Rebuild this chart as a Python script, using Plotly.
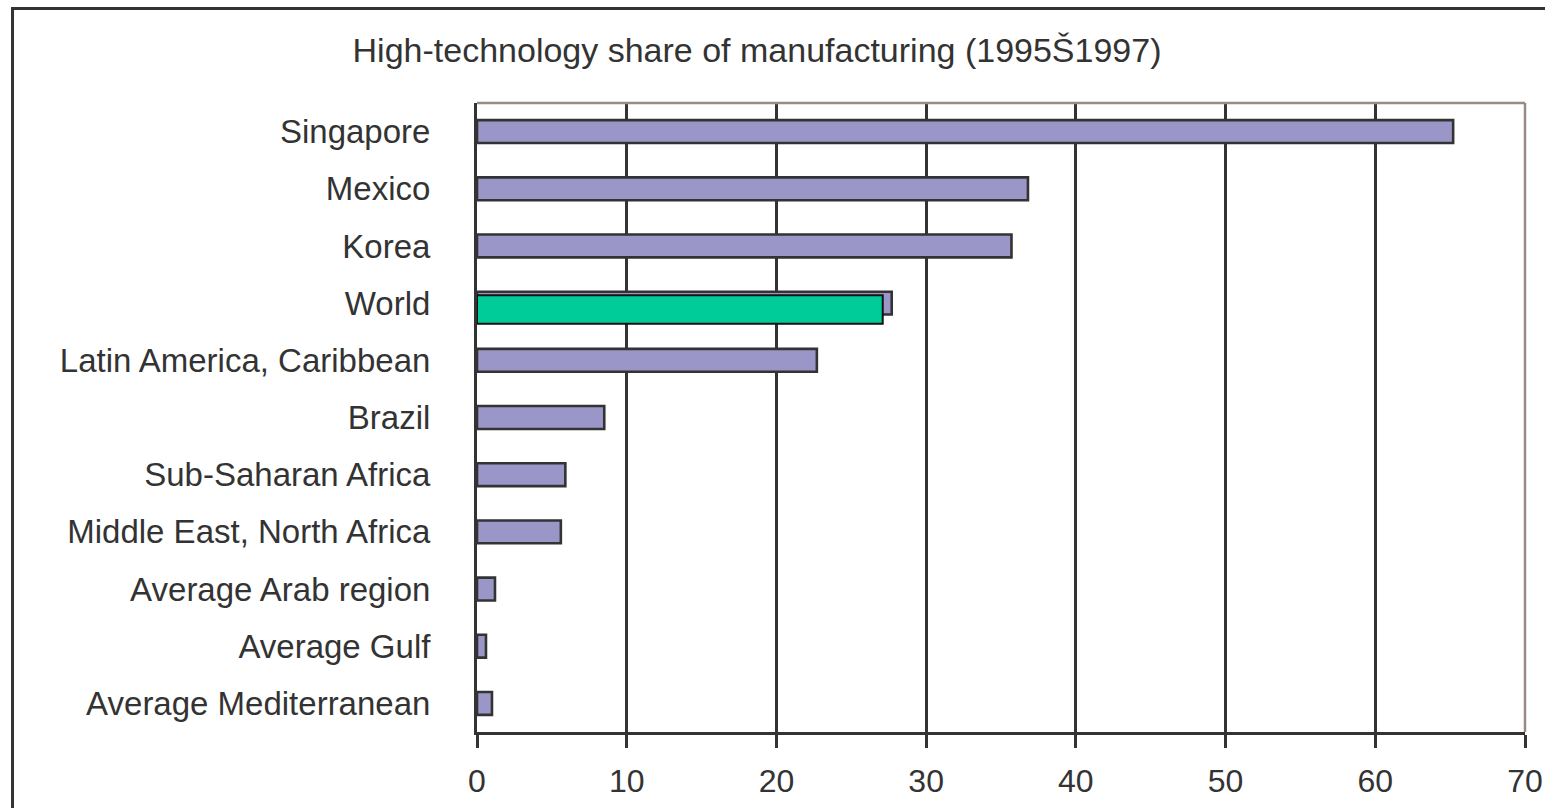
import plotly.graph_objects as go

categories = ["Singapore", "Mexico", "Korea", "World", "Latin America, Caribbean",
              "Brazil", "Sub-Saharan Africa", "Middle East, North Africa",
              "Average Arab region", "Average Gulf", "Average Mediterranean"]
values = [65.2, 36.8, 35.7, 27.7, 22.7, 8.5, 5.9, 5.6, 1.2, 0.6, 1.0]
highlight_category = ["World"]
highlight_value = [27.1]
x_ticks = [0, 10, 20, 30, 40, 50, 60, 70]
title_text = "High-technology share of manufacturing (1995Š1997)"

DARK = "#333333"
FONT = "Liberation Sans, Arial, sans-serif"

fig = go.Figure()
fig.add_trace(go.Bar(
    y=categories, x=values, orientation="h", width=0.4,
    marker=dict(color="#9b96c8", line=dict(color=DARK, width=2.6)),
    showlegend=False, hoverinfo="x+y",
))
fig.add_trace(go.Bar(
    y=highlight_category, x=highlight_value, orientation="h",
    width=0.5, offset=-0.14,
    marker=dict(color="#00cc99", line=dict(color="#111111", width=2)),
    showlegend=False, hoverinfo="x+y",
))

fig.update_layout(
    width=1545, height=808,
    margin=dict(l=477, r=20, t=103, b=76),
    paper_bgcolor="white", plot_bgcolor="white",
    barmode="overlay",
    title=dict(text=title_text, x=0.49, xanchor="center", y=0.938, yanchor="middle",
               font=dict(family=FONT, size=34, color=DARK)),
    font=dict(family=FONT, color=DARK),
    xaxis=dict(range=[0, 70], tickvals=x_ticks, showgrid=True, gridcolor=DARK, gridwidth=2.6,
               zeroline=False, showline=True, linecolor=DARK, linewidth=3,
               ticks="outside", ticklen=13, tickwidth=3, tickcolor=DARK,
               ticklabelstandoff=6, automargin=False,
               tickfont=dict(family=FONT, size=32, color=DARK), fixedrange=True),
    yaxis=dict(categoryorder="array", categoryarray=categories, autorange="reversed",
               showgrid=False, zeroline=False, showline=True, linecolor=DARK, linewidth=3,
               ticks="", ticklabelstandoff=37, automargin=False,
               tickfont=dict(family=FONT, size=33, color=DARK), fixedrange=True),
    shapes=[
        dict(type="line", xref="paper", yref="paper", x0=0, x1=1, y0=1, y1=1,
             line=dict(color="#9a8a85", width=2.5), layer="above"),
        dict(type="line", xref="paper", yref="paper", x0=1, x1=1, y0=0, y1=1,
             line=dict(color="#9a8a85", width=2.5), layer="above"),
        dict(type="path", xref="paper", yref="paper",
             path="M -0.4432,-0.15 L -0.4432,1.1502 L 1.05,1.1502",
             line=dict(color=DARK, width=3)),
    ],
)

fig.write_html("out.html")
